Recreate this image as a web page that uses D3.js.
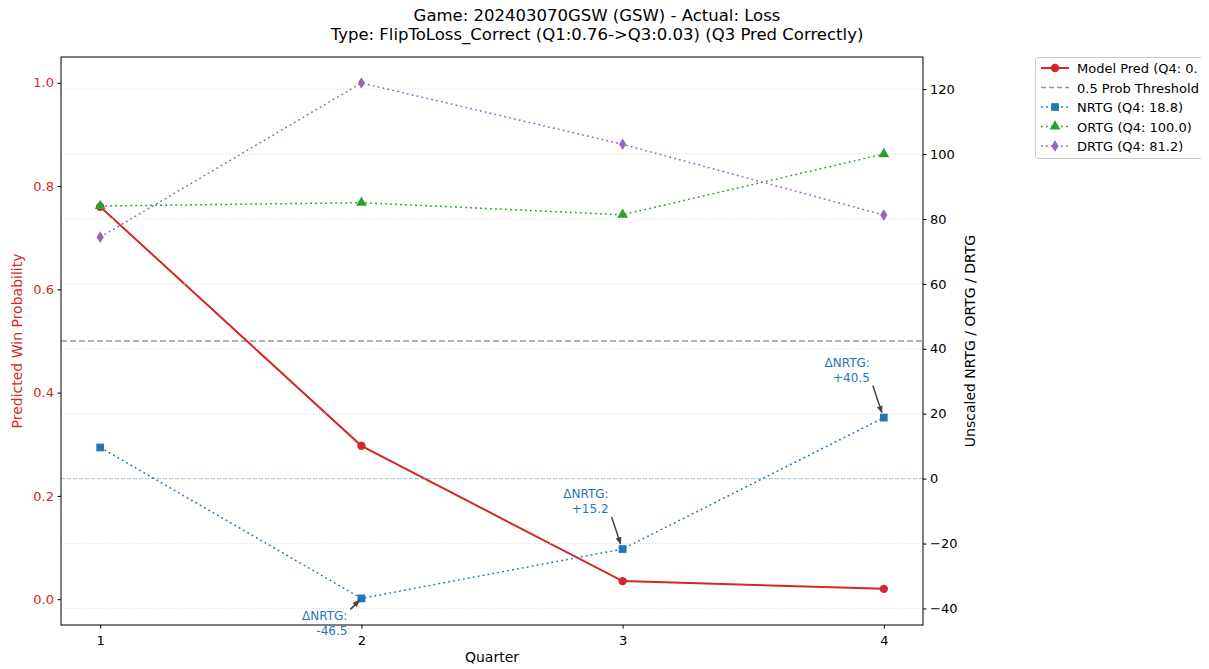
<!DOCTYPE html>
<html>
<head>
<meta charset="utf-8">
<script src="https://cdn.jsdelivr.net/npm/d3@7"></script>
<style>
  html, body { margin: 0; padding: 0; background: #fff; }
  svg { display: block; font-family: "DejaVu Sans", sans-serif; }
</style>
</head>
<body>
<svg id="chart" width="1209" height="669"></svg>
<script>
// ---- Data ----
const quarters = [1, 2, 3, 4];
const modelPred = [0.76, 0.297, 0.035, 0.02];
const nrtg = [9.6, -36.9, -21.7, 18.8];
const ortg = [84.0, 85.0, 81.3, 100.0];
const drtg = [74.4, 121.9, 103.0, 81.2];
const leftTicks = [0.0, 0.2, 0.4, 0.6, 0.8, 1.0];
const rightTicks = [-40, -20, 0, 20, 40, 60, 80, 100, 120];
const threshold = 0.5;
const legendLabels = ["Model Pred (Q4: 0.", "0.5 Prob Threshold", "NRTG (Q4: 18.8)", "ORTG (Q4: 100.0)", "DRTG (Q4: 81.2)"];
const titleLines = ["Game: 202403070GSW (GSW) - Actual: Loss",
                    "Type: FlipToLoss_Correct (Q1:0.76->Q3:0.03) (Q3 Pred Correctly)"];

// ---- Layout ----
const svg = d3.select("#chart");
const L = 61, R = 923, T = 57, B = 625;
const red = "#d62728", blue = "#1f77b4", green = "#2ca02c", purple = "#9467bd";

const x = d3.scaleLinear().domain([0.85, 4.15]).range([L, R]);
const yL = d3.scaleLinear().domain([-0.05, 1.05]).range([B, T]);
const yR = d3.scaleLinear().domain([-45.1, 129.9]).range([B, T]);

// threshold line (left axis)
svg.append("line").attr("x1", L).attr("x2", R)
  .attr("y1", yL(threshold)).attr("y2", yL(threshold))
  .attr("stroke", "#999").attr("stroke-width", 1.5).attr("stroke-dasharray", "6,3");

// model pred line
const lineL = d3.line().x((d, i) => x(quarters[i])).y(d => yL(d));
svg.append("path").datum(modelPred).attr("d", lineL)
  .attr("fill", "none").attr("stroke", red).attr("stroke-width", 2);
svg.selectAll(".mp").data(modelPred).enter().append("circle")
  .attr("cx", (d, i) => x(quarters[i])).attr("cy", d => yL(d)).attr("r", 4.2).attr("fill", red);

// right axis grid
svg.append("g").selectAll("line").data(rightTicks).enter().append("line")
  .attr("x1", L).attr("x2", R).attr("y1", d => yR(d)).attr("y2", d => yR(d))
  .attr("stroke", "#d9d9d9").attr("stroke-width", 1).attr("stroke-dasharray", "1,2");

// zero line
svg.append("line").attr("x1", L).attr("x2", R).attr("y1", yR(0)).attr("y2", yR(0))
  .attr("stroke", blue).attr("stroke-opacity", 0.4).attr("stroke-width", 1).attr("stroke-dasharray", "4,2");

const lineR = d3.line().x((d, i) => x(quarters[i])).y(d => yR(d));
function drawSeries(data, color, shape, size) {
  svg.append("path").datum(data).attr("d", lineR).attr("fill", "none")
    .attr("stroke", color).attr("stroke-width", 1.5).attr("stroke-dasharray", "1.8,3.2");
  svg.selectAll(null).data(data).enter().append("path")
    .attr("transform", (d, i) => `translate(${x(quarters[i])},${yR(d)})`)
    .attr("d", d3.symbol().type(shape).size(size)).attr("fill", color);
}
const diamond = {
  draw(ctx, size) {
    const h = Math.sqrt(size) * 0.75, w = h * 0.62;
    ctx.moveTo(0, -h); ctx.lineTo(w, 0); ctx.lineTo(0, h); ctx.lineTo(-w, 0); ctx.closePath();
  }
};
drawSeries(nrtg, blue, d3.symbolSquare, 60);
drawSeries(ortg, green, d3.symbolTriangle, 50);
drawSeries(drtg, purple, diamond, 60);

// Annotations of NRTG change
svg.append("defs").append("marker").attr("id", "ah").attr("viewBox", "0 0 10 10")
  .attr("refX", 9).attr("refY", 5).attr("markerWidth", 5).attr("markerHeight", 5)
  .attr("orient", "auto").attr("markerUnits", "strokeWidth")
  .append("path").attr("d", "M0,1 L10,5 L0,9 Z").attr("fill", "#444");

for (let i = 1; i < quarters.length; i++) {
  const delta = nrtg[i] - nrtg[i - 1];
  const px = x(quarters[i]), py = yR(nrtg[i]);
  const below = delta < 0;
  const tx = px - 14;
  const ty1 = below ? py + 22 : py - 51;
  const g = svg.append("g");
  g.append("text").attr("x", tx).attr("y", ty1).attr("text-anchor", "end")
    .attr("font-size", 12).attr("fill", blue).text("ΔNRTG:");
  g.append("text").attr("x", tx).attr("y", ty1 + 15).attr("text-anchor", "end")
    .attr("font-size", 12).attr("fill", blue).text((delta >= 0 ? "+" : "") + delta.toFixed(1));
  const sx = px - 11, sy = below ? py + 11 : py - 32;
  const ex = px - 2, ey = below ? py + 2 : py - 5;
  g.append("line").attr("x1", sx).attr("y1", sy).attr("x2", ex).attr("y2", ey)
    .attr("stroke", "#444").attr("stroke-width", 1.5).attr("marker-end", "url(#ah)");
}

// Frame
svg.append("rect").attr("x", L).attr("y", T).attr("width", R - L).attr("height", B - T)
  .attr("fill", "none").attr("stroke", "#000").attr("stroke-width", 1);

// Axes
const axB = svg.append("g").attr("transform", `translate(0,${B})`)
  .call(d3.axisBottom(x).tickValues(quarters).tickFormat(d3.format("d")).tickSize(3.5).tickSizeOuter(0));
const axL = svg.append("g").attr("transform", `translate(${L},0)`)
  .call(d3.axisLeft(yL).tickValues(leftTicks).tickFormat(d3.format(".1f")).tickSize(3.5).tickSizeOuter(0));
const axR = svg.append("g").attr("transform", `translate(${R},0)`)
  .call(d3.axisRight(yR).tickValues(rightTicks).tickFormat(d => d < 0 ? "\u2212" + Math.abs(d) : d).tickSize(3.5).tickSizeOuter(0));
[axB, axL, axR].forEach(a => {
  a.select(".domain").remove();
  a.selectAll("text").attr("font-family", "DejaVu Sans").attr("font-size", 13).attr("fill", "#000");
  a.selectAll("line").attr("stroke", "#000");
});
axB.selectAll("text").attr("dy", "1.05em");
axL.selectAll("text").attr("fill", red).attr("x", -7);
axR.selectAll("text").attr("x", 7);

// Axis labels
svg.append("text").attr("x", (L + R) / 2).attr("y", 662).attr("text-anchor", "middle")
  .attr("font-size", 14).text("Quarter");
svg.append("text").attr("transform", `translate(22,${(T + B) / 2}) rotate(-90)`)
  .attr("text-anchor", "middle").attr("font-size", 14).attr("fill", red).text("Predicted Win Probability");
svg.append("text").attr("transform", `translate(975,${(T + B) / 2}) rotate(-90)`)
  .attr("text-anchor", "middle").attr("font-size", 14).text("Unscaled NRTG / ORTG / DRTG");

// Title
svg.selectAll(".title").data(titleLines).enter().append("text")
  .attr("x", 597).attr("y", (d, i) => 21 + i * 18.5).attr("text-anchor", "middle")
  .attr("font-size", 16.5).text(d => d);

// Legend
svg.append("clipPath").attr("id", "lclip").append("rect").attr("x", 0).attr("y", 0).attr("width", 1201).attr("height", 669);
const lg = svg.append("g");
lg.append("rect").attr("x", 1035.5).attr("y", 57.5).attr("width", 200).attr("height", 101).attr("rx", 3)
  .attr("fill", "#fff").attr("stroke", "#ccc").attr("clip-path", "url(#lclip)");
const legendItems = [
  {color: red, dash: null, width: 2, shape: "circle"},
  {color: "#999", dash: "5,3", width: 1.5, shape: null},
  {color: blue, dash: "1.8,3.2", width: 1.5, shape: d3.symbolSquare, size: 60},
  {color: green, dash: "1.8,3.2", width: 1.5, shape: d3.symbolTriangle, size: 50},
  {color: purple, dash: "1.8,3.2", width: 1.5, shape: diamond, size: 60}
];
legendItems.forEach((it, i) => {
  const yy = 68 + i * 19.5;
  lg.append("line").attr("x1", 1041).attr("x2", 1069).attr("y1", yy).attr("y2", yy)
    .attr("stroke", it.color).attr("stroke-width", it.width).attr("stroke-dasharray", it.dash);
  if (it.shape === "circle") {
    lg.append("circle").attr("cx", 1055).attr("cy", yy).attr("r", 4.2).attr("fill", it.color);
  } else if (it.shape) {
    lg.append("path").attr("transform", `translate(1055,${yy})`)
      .attr("d", d3.symbol().type(it.shape).size(it.size)).attr("fill", it.color);
  }
  lg.append("text").attr("x", 1077).attr("y", yy + 5).attr("font-size", 13).text(legendLabels[i]);
});
</script>
</body>
</html>
